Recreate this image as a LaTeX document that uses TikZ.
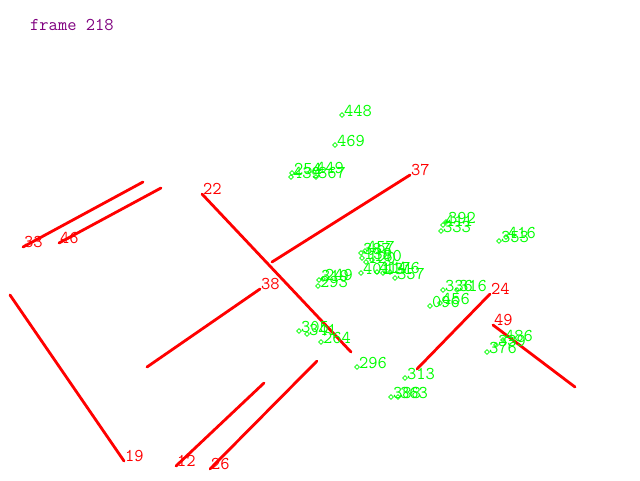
\documentclass[tikz,border=0pt]{standalone}
\usepackage{fontspec}
\usetikzlibrary{shapes.geometric}
\definecolor{segred}{RGB}{255,0,0}
\definecolor{ptgreen}{RGB}{0,255,0}
\definecolor{framepurple}{RGB}{128,0,128}
\tikzset{
  hfnt/.style={font=\ttfamily\fontsize{18}{18}\selectfont},
  seg/.style={draw=segred, line width=2.8pt, line cap=round},
  redlbl/.style={hfnt, anchor=base west, inner sep=0pt, text=segred},
  gdot/.style={draw=ptgreen, shape=diamond, minimum size=5pt, inner sep=0pt, line width=0.8pt},
  glbl/.style={hfnt, anchor=base west, inner sep=0pt, text=ptgreen},
  titlelbl/.style={hfnt, anchor=base west, inner sep=0pt, text=framepurple}
}
\begin{document}
\begin{tikzpicture}[x=1pt,y=-1pt]
\useasboundingbox (0,0) rectangle (640,480);
\fill[white] (0,0) rectangle (640,480);
\node[titlelbl] (title) at (30,30) {frame 218};
% red segments: label end / other end
\foreach \n/\ax/\ay/\bx/\by in {
  33/23/247/143/182,
  46/59/243/161/188,
  22/202/194/351/352,
  37/410/175/272/262,
  38/260/289/147/367,
  19/124/461/10/295,
  12/176/466/264/383,
  26/210/469/317/361,
  24/490/294/417/369,
  49/493/325/575/387}{
  \coordinate (a\n) at (\ax,\ay);
  \coordinate (b\n) at (\bx,\by);
  \draw[seg] (a\n) -- (b\n);
  \node[redlbl] (l\n) at ([xshift=1pt]a\n) {\n};
}
% green tracked points
\foreach \t/\x/\y in {
  448/342/115, 469/335/145,
  254/292/173, 439/291/177, 449/314/172, 367/316/177,
  387/361/253, 457/365/251, 138/362/258, 180/372/260, 120/366/262,
  401/361/273, 131/383/273, 414/377/272, 176/390/272, 357/395/278,
  319/319/280, 249/323/279, 293/318/286,
  392/446/222, 411/443/225, 333/441/231,
  416/506/237, 353/499/241,
  336/443/290, 316/457/290,
  096/430/306, 456/440/303,
  305/299/331, 341/307/334, 264/321/342,
  296/357/367, 313/405/378,
  388/391/397, 363/398/397,
  486/503/340, 339/496/345, 376/487/352}{
  \node[gdot] (g\t) at (\x,\y) {};
  \node[glbl] (gl\t) at ([xshift=2pt,yshift=-1pt]g\t.center) {\t};
}
\end{tikzpicture}
\end{document}
